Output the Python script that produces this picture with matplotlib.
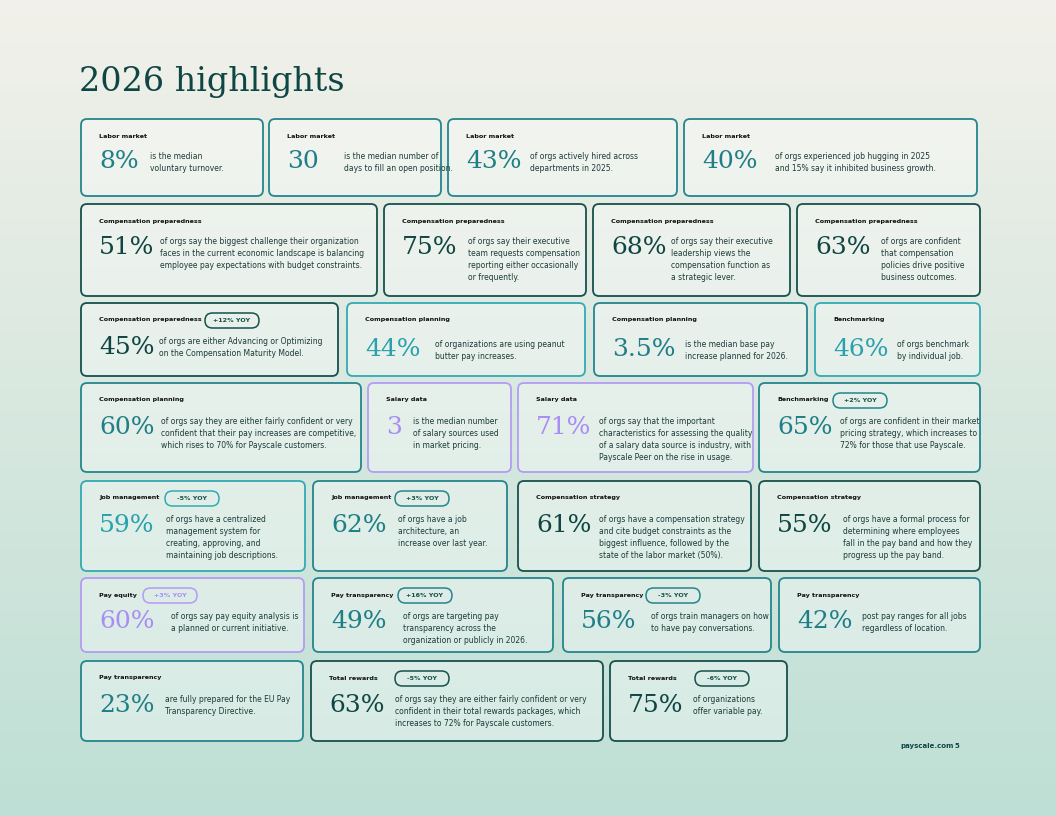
import matplotlib
matplotlib.use("Agg")
import matplotlib.pyplot as plt
import numpy as np
from matplotlib.patches import FancyBboxPatch

categories = ["Labor market","Labor market","Labor market","Labor market",
 "Compensation preparedness","Compensation preparedness","Compensation preparedness","Compensation preparedness",
 "Compensation preparedness","Compensation planning","Compensation planning","Benchmarking",
 "Compensation planning","Salary data","Salary data","Benchmarking",
 "Job management","Job management","Compensation strategy","Compensation strategy",
 "Pay equity","Pay transparency","Pay transparency","Pay transparency",
 "Pay transparency","Total rewards","Total rewards"]
stats = ["8%","30","43%","40%","51%","75%","68%","63%","45%","44%","3.5%","46%",
 "60%","3","71%","65%","59%","62%","61%","55%","60%","49%","56%","42%","23%","63%","75%"]
descriptions = [
 "is the median\nvoluntary turnover.",
 "is the median number of\ndays to fill an open position.",
 "of orgs actively hired across\ndepartments in 2025.",
 "of orgs experienced job hugging in 2025\nand 15% say it inhibited business growth.",
 "of orgs say the biggest challenge their organization\nfaces in the current economic landscape is balancing\nemployee pay expectations with budget constraints.",
 "of orgs say their executive\nteam requests compensation\nreporting either occasionally\nor frequently.",
 "of orgs say their executive\nleadership views the\ncompensation function as\na strategic lever.",
 "of orgs are confident\nthat compensation\npolicies drive positive\nbusiness outcomes.",
 "of orgs are either Advancing or Optimizing\non the Compensation Maturity Model.",
 "of organizations are using peanut\nbutter pay increases.",
 "is the median base pay\nincrease planned for 2026.",
 "of orgs benchmark\nby individual job.",
 "of orgs say they are either fairly confident or very\nconfident that their pay increases are competitive,\nwhich rises to 70% for Payscale customers.",
 "is the median number\nof salary sources used\nin market pricing.",
 "of orgs say that the important\ncharacteristics for assessing the quality\nof a salary data source is industry, with\nPayscale Peer on the rise in usage.",
 "of orgs are confident in their market\npricing strategy, which increases to\n72% for those that use Payscale.",
 "of orgs have a centralized\nmanagement system for\ncreating, approving, and\nmaintaining job descriptions.",
 "of orgs have a job\narchitecture, an\nincrease over last year.",
 "of orgs have a compensation strategy\nand cite budget constraints as the\nbiggest influence, followed by the\nstate of the labor market (50%).",
 "of orgs have a formal process for\ndetermining where employees\nfall in the pay band and how they\nprogress up the pay band.",
 "of orgs say pay equity analysis is\na planned or current initiative.",
 "of orgs are targeting pay\ntransparency across the\norganization or publicly in 2026.",
 "of orgs train managers on how\nto have pay conversations.",
 "post pay ranges for all jobs\nregardless of location.",
 "are fully prepared for the EU Pay\nTransparency Directive.",
 "of orgs say they are either fairly confident or very\nconfident in their total rewards packages, which\nincreases to 72% for Payscale customers.",
 "of organizations\noffer variable pay."]
yoy = ["","","","","","","","","+12% YOY","","","","","","","+2% YOY",
 "-5% YOY","+3% YOY","","","+3% YOY","+16% YOY","-3% YOY","","","-5% YOY","-6% YOY"]

# layout: (x0,y0,x1,y1, number center y, description x, pill x, color key)
layout = [
 (81,119,263,196,162,150,None,'t'),(269,119,441,196,162,344,None,'t'),
 (448,119,677,196,162,530,None,'t'),(684,119,977,196,162,775,None,'t'),
 (81,204,377,296,247,160,None,'d'),(384,204,586,296,247,468,None,'d'),
 (593,204,790,296,247,671,None,'d'),(797,204,980,296,247,881,None,'d'),
 (81,303,338,376,347,159,205,'d'),(347,303,585,376,350,435,None,'l'),
 (594,303,807,376,350,685,None,'t'),(815,303,980,376,350,897,None,'l'),
 (81,383,361,472,427,161,None,'t'),(368,383,511,472,427,413,None,'p'),
 (518,383,753,472,427,599,None,'p'),(759,383,980,472,427,840,833,'t'),
 (81,481,305,571,525,166,165,'l'),(313,481,507,571,525,398,395,'t'),
 (518,481,751,571,525,599,None,'d'),(759,481,980,571,525,843,None,'d'),
 (81,578,304,652,622,171,143,'p'),(313,578,553,652,622,403,398,'t'),
 (563,578,771,652,622,651,646,'t'),(779,578,980,652,622,862,None,'t'),
 (81,661,303,741,705,165,None,'t'),(311,661,603,741,705,395,395,'d'),
 (610,661,787,741,705,693,695,'d')]
border = {'d':'#17504c','t':'#24858d','l':'#33a9b3','p':'#b39cf5'}
numcol = {'d':'#0f4643','t':'#1f7e86','l':'#2aa2ad','p':'#a88ef3'}

fig = plt.figure(figsize=(10.56,8.16), dpi=100)
ax = fig.add_axes([0,0,1,1])
ax.set_xlim(0,1056); ax.set_ylim(816,0); ax.axis('off')
top = np.array([0.949,0.945,0.918]); bot = np.array([0.745,0.875,0.835])
t = np.linspace(0,1,200)[:,None]
grad = (top*(1-t)+bot*t)[:,None,:].repeat(2,axis=1)
ax.imshow(grad, extent=(0,1056,816,0), aspect='auto', zorder=0)

ax.text(79,82,"2026 highlights", fontsize=24, family='DejaVu Serif', color='#0f4643', va='center')
ax.text(900,746,"payscale.com", fontsize=5, color='#0f4643', weight='bold', va='center')
ax.text(955,746,"5", fontsize=5, color='#0f4643', weight='bold', va='center')

for i,(x0,y0,x1,y1,ny,dx,px,ck) in enumerate(layout):
    ax.add_patch(FancyBboxPatch((x0,y0),x1-x0,y1-y0, boxstyle="round,pad=0,rounding_size=6",
        fc=(1,1,1,0.35), ec=border[ck], lw=1.3, zorder=2))
    ax.text(x0+18, y0+17, categories[i], fontsize=4.6, weight='bold', color='#111', va='center', zorder=3)
    ax.text(x0+18, ny, stats[i], fontsize=18, family='DejaVu Serif', color=numcol[ck], va='center', zorder=3)
    ax.text(dx, ny-10, descriptions[i], fontsize=5.5, color='#1b3b39', va='top', linespacing=1.45, zorder=3)
    if yoy[i]:
        pcol = numcol[ck]
        ax.add_patch(FancyBboxPatch((px, y0+10), 54, 15, boxstyle="round,pad=0,rounding_size=7.5",
            fc='none', ec=border[ck], lw=1.1, zorder=3))
        ax.text(px+27, y0+17.5, yoy[i], fontsize=4.6, weight='bold', color=pcol if ck=='p' else '#17504c',
                ha='center', va='center', zorder=4)

fig.savefig("out.png", dpi=100)
